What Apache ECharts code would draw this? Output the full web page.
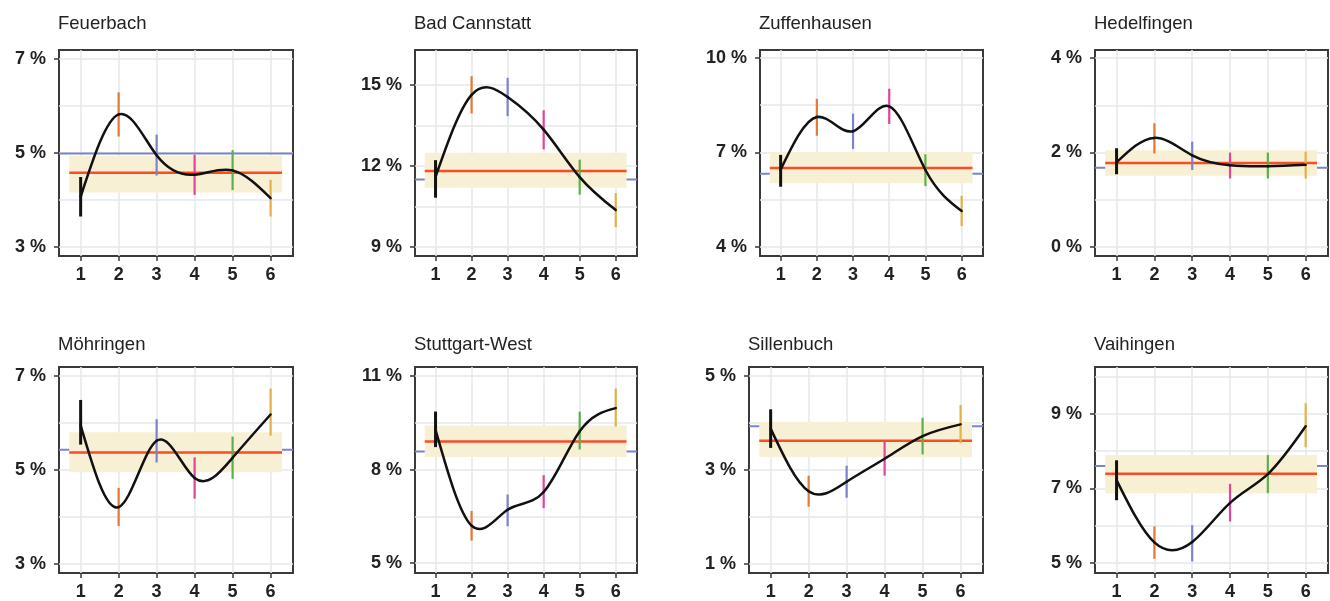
<!DOCTYPE html>
<html><head><meta charset="utf-8">
<script src="https://cdn.jsdelivr.net/npm/echarts@6/dist/echarts.min.js"></script>
<style>html,body{margin:0;padding:0;background:#fff}#c{width:1330px;height:601px}</style>
</head><body><div id="c"></div>
<script>
// ---------- data ----------
const districts = ['Feuerbach','Bad Cannstatt','Zuffenhausen','Hedelfingen','Möhringen','Stuttgart-West','Sillenbuch','Vaihingen'];
const categories = [1, 2, 3, 4, 5, 6];

const feuerbachEst = [4.07, 5.82, 4.95, 4.54, 4.63, 4.04];
const feuerbachLo  = [3.65, 5.35, 4.52, 4.11, 4.21, 3.65];
const feuerbachHi  = [4.49, 6.29, 5.39, 4.96, 5.06, 4.43];

const cannstattEst = [11.6, 14.64, 14.56, 13.35, 11.59, 10.37];
const cannstattLo  = [10.83, 13.95, 13.85, 12.62, 10.94, 9.74];
const cannstattHi  = [12.22, 15.33, 15.27, 14.07, 12.24, 11.0];

const zuffenhausenEst = [6.45, 8.12, 7.67, 8.46, 6.44, 5.14];
const zuffenhausenLo  = [5.91, 7.53, 7.11, 7.90, 5.93, 4.66];
const zuffenhausenHi  = [6.92, 8.70, 8.23, 9.02, 6.94, 5.62];

const hedelfingenEst = [1.79, 2.31, 1.94, 1.73, 1.71, 1.74];
const hedelfingenLo  = [1.54, 1.98, 1.63, 1.45, 1.45, 1.45];
const hedelfingenHi  = [2.09, 2.62, 2.23, 2.00, 2.00, 2.02];

const moehringenEst = [5.95, 4.21, 5.62, 4.83, 5.26, 6.18];
const moehringenLo  = [5.54, 3.81, 5.16, 4.39, 4.81, 5.73];
const moehringenHi  = [6.49, 4.62, 6.08, 5.27, 5.71, 6.73];

const westEst = [9.27, 6.20, 6.71, 7.28, 9.23, 9.97];
const westLo  = [8.72, 5.72, 6.18, 6.76, 8.64, 9.38];
const westHi  = [9.86, 6.67, 7.20, 7.82, 9.86, 10.6];

const sillenbuchEst = [3.88, 2.55, 2.75, 3.24, 3.72, 3.97];
const sillenbuchLo  = [3.47, 2.22, 2.41, 2.88, 3.33, 3.57];
const sillenbuchHi  = [4.29, 2.88, 3.09, 3.60, 4.11, 4.38];

const vaihingenEst = [7.22, 5.55, 5.56, 6.61, 7.38, 8.66];
const vaihingenLo  = [6.68, 5.11, 5.04, 6.11, 6.87, 8.10];
const vaihingenHi  = [7.75, 5.98, 6.01, 7.12, 7.89, 9.28];

const cityLevel    = [4.99, 11.5, 6.32, 1.68, 5.43, 8.58, 3.93, 7.60];   // blue
const districtMean = [4.58, 11.82, 6.50, 1.78, 5.37, 8.90, 3.62, 7.39];  // red
const bandLow      = [4.16, 11.20, 6.02, 1.51, 4.95, 8.40, 3.27, 6.87];
const bandHigh     = [4.94, 12.49, 7.00, 2.05, 5.80, 9.41, 4.02, 7.89];
const bandX        = [0.7, 6.3];

const yMin = [2.81, 8.67, 3.71, -0.19, 2.81, 4.68, 0.81, 4.73];
const yMax = [7.19, 16.3, 10.25, 4.17, 7.19, 11.29, 5.19, 10.25];
const xRange = [0.43, 6.59];
const yLabelTicks = [[3,5,7],[9,12,15],[4,7,10],[0,2,4],[3,5,7],[5,8,11],[1,3,5],[5,7,9]];
const yGridTicks = [[3,4,5,6,7],[9,10.5,12,13.5,15],[4,5.5,7,8.5,10],[0,1,2,3,4],[3,4,5,6,7],[5,6.5,8,9.5,11],[1,2,3,4,5],[5,6,7,8,9,10]];
const yGridStep = [1, 1.5, 1.5, 1, 1, 1.5, 1, 1];

const estimates = [feuerbachEst, cannstattEst, zuffenhausenEst, hedelfingenEst, moehringenEst, westEst, sillenbuchEst, vaihingenEst];
const lowers = [feuerbachLo, cannstattLo, zuffenhausenLo, hedelfingenLo, moehringenLo, westLo, sillenbuchLo, vaihingenLo];
const uppers = [feuerbachHi, cannstattHi, zuffenhausenHi, hedelfingenHi, moehringenHi, westHi, sillenbuchHi, vaihingenHi];

// ---------- layout & style ----------
const gridLeft   = [59, 415, 760, 1095, 59, 415, 749, 1095];
const gridWidth  = [234, 222, 223, 233, 234, 222, 234, 233];
const rowTop     = [50, 367];
const rowHeight  = [206, 207];
const titleTop   = [14, 335];
const barColors  = ['#111111', '#e27a36', '#7d83cb', '#e0459b', '#5daf4e', '#e4b04a'];
const frameColor = '#3a3a3a';
const gridColor  = '#e3e8e8';
const font = 'Liberation Sans, Arial, sans-serif';

// slopes of a natural cubic spline through (x, y)
function splineSlopes(x, y) {
  const n = x.length;
  const h = [], a = new Array(n).fill(0), b = new Array(n).fill(1), c = new Array(n).fill(0), r = new Array(n).fill(0);
  for (let i = 0; i < n - 1; i++) h[i] = x[i + 1] - x[i];
  for (let i = 1; i < n - 1; i++) {
    a[i] = h[i - 1]; b[i] = 2 * (h[i - 1] + h[i]); c[i] = h[i];
    r[i] = 6 * ((y[i + 1] - y[i]) / h[i] - (y[i] - y[i - 1]) / h[i - 1]);
  }
  // Thomas algorithm (M0 = Mn-1 = 0)
  const cp = new Array(n).fill(0), rp = new Array(n).fill(0);
  for (let i = 0; i < n; i++) {
    const den = b[i] - (i > 0 ? a[i] * cp[i - 1] : 0);
    cp[i] = c[i] / den;
    rp[i] = (r[i] - (i > 0 ? a[i] * rp[i - 1] : 0)) / den;
  }
  const M = new Array(n).fill(0);
  M[n - 1] = rp[n - 1];
  for (let i = n - 2; i >= 0; i--) M[i] = rp[i] - cp[i] * M[i + 1];
  const s = new Array(n);
  for (let i = 0; i < n - 1; i++) s[i] = (y[i + 1] - y[i]) / h[i] - h[i] * (2 * M[i] + M[i + 1]) / 6;
  s[n - 1] = (y[n - 1] - y[n - 2]) / h[n - 2] + h[n - 2] * (M[n - 2] + 2 * M[n - 1]) / 6;
  return s;
}

const grids = [], xAxes = [], yAxes = [], series = [], titles = [];

districts.forEach((name, i) => {
  const row = i < 4 ? 0 : 1;
  grids.push({left: gridLeft[i], top: rowTop[row], width: gridWidth[i], height: rowHeight[row],
    show: true, borderColor: frameColor, borderWidth: 2, backgroundColor: 'transparent'});
  titles.push({text: name, left: gridLeft[i] - 1, top: titleTop[row], padding: 0,
    textStyle: {fontSize: 18.5, fontWeight: 'normal', color: '#222', fontFamily: font}});

  xAxes.push({gridIndex: i, type: 'value', min: xRange[0], max: xRange[1], minInterval: 1, maxInterval: 1,
    axisLine: {show: false, onZero: false},
    axisTick: {show: true, customValues: categories, length: 5, lineStyle: {color: frameColor, width: 1.5}},
    axisLabel: {customValues: categories, margin: 10, fontSize: 18, fontWeight: 'bold', color: '#222', fontFamily: font},
    splitLine: {show: true, customValues: categories, lineStyle: {color: gridColor, width: 1.5}}});

  yAxes.push({gridIndex: i, type: 'value', min: yMin[i], max: yMax[i], position: 'left',
    axisLine: {show: false, onZero: false}, splitLine: {show: false},
    axisTick: {show: true, customValues: yLabelTicks[i], length: 5, lineStyle: {color: frameColor, width: 1.5}},
    axisLabel: {customValues: yLabelTicks[i], formatter: v => v + ' %', margin: 13, fontSize: 18, fontWeight: 'bold', color: '#222', fontFamily: font}});
  yAxes.push({gridIndex: i, type: 'value', min: yMin[i], max: yMax[i], position: 'right',
    minInterval: yGridStep[i], maxInterval: yGridStep[i],
    axisLine: {show: false, onZero: false}, axisLabel: {show: false},
    axisTick: {show: false, customValues: yGridTicks[i]},
    splitLine: {show: true, customValues: yGridTicks[i], lineStyle: {color: gridColor, width: 1.5}}});

  const xi = i, yi = 2 * i;

  // blue reference level across the whole panel
  series.push({type: 'custom', xAxisIndex: xi, yAxisIndex: yi, z: 3, silent: true,
    data: [[xRange[0], cityLevel[i]]],
    renderItem: (params, api) => {
      const cs = params.coordSys;
      const y = api.coord([api.value(0), api.value(1)])[1];
      return {type: 'line', shape: {x1: cs.x, y1: y, x2: cs.x + cs.width, y2: y},
        style: {stroke: '#7b83c9', lineWidth: 2}};
    }});

  // beige band
  series.push({type: 'custom', xAxisIndex: xi, yAxisIndex: yi, z: 4, silent: true,
    data: [[bandX[0], bandX[1], bandLow[i], bandHigh[i]]],
    encode: {x: [0, 1], y: [2, 3]},
    renderItem: (params, api) => {
      const p0 = api.coord([api.value(0), api.value(3)]);
      const p1 = api.coord([api.value(1), api.value(2)]);
      return {type: 'rect', shape: {x: p0[0], y: p0[1], width: p1[0] - p0[0], height: p1[1] - p0[1]},
        style: {fill: '#f8f0d4'}};
    }});

  // red mean line
  series.push({type: 'custom', xAxisIndex: xi, yAxisIndex: yi, z: 5, silent: true,
    data: [[bandX[0], bandX[1], districtMean[i]]],
    encode: {x: [0, 1], y: 2},
    renderItem: (params, api) => {
      const p0 = api.coord([api.value(0), api.value(2)]);
      const p1 = api.coord([api.value(1), api.value(2)]);
      return {type: 'line', shape: {x1: p0[0], y1: p0[1], x2: p1[0], y2: p1[1]},
        style: {stroke: '#fa4c26', lineWidth: 2.5}};
    }});

  // error bars
  series.push({type: 'custom', xAxisIndex: xi, yAxisIndex: yi, z: 6, silent: true,
    data: categories.map((c, k) => [c, lowers[i][k], uppers[i][k]]),
    encode: {x: 0, y: [1, 2]},
    renderItem: (params, api) => {
      const a = api.coord([api.value(0), api.value(1)]);
      const b = api.coord([api.value(0), api.value(2)]);
      const k = params.dataIndex;
      return {type: 'line', shape: {x1: a[0], y1: a[1], x2: b[0], y2: b[1]},
        style: {stroke: barColors[k], lineWidth: k === 0 ? 3 : 2.2}};
    }});

  // smooth trend curve: cubic spline through the estimates, drawn segment by segment
  const est = estimates[i];
  const slopes = splineSlopes(categories, est);
  series.push({type: 'custom', xAxisIndex: xi, yAxisIndex: yi, z: 8, silent: true,
    data: categories.map((c, k) => [c, est[k]]),
    encode: {x: 0, y: 1},
    renderItem: (params, api) => {
      const k = params.dataIndex;
      if (k >= categories.length - 1) return null;
      const x0 = categories[k], x1 = categories[k + 1], h = x1 - x0;
      const y0 = est[k], y1 = est[k + 1];
      const p0 = api.coord([x0, y0]);
      const p1 = api.coord([x1, y1]);
      const c0 = api.coord([x0 + h / 3, y0 + slopes[k] * h / 3]);
      const c1 = api.coord([x1 - h / 3, y1 - slopes[k + 1] * h / 3]);
      return {type: 'bezierCurve',
        shape: {x1: p0[0], y1: p0[1], x2: p1[0], y2: p1[1], cpx1: c0[0], cpy1: c0[1], cpx2: c1[0], cpy2: c1[1]},
        style: {stroke: '#111', lineWidth: 2.5, fill: null, lineCap: 'round'}};
    }});
});

const chart = echarts.init(document.getElementById('c'));
chart.setOption({animation: false, backgroundColor: '#fff', title: titles, grid: grids, xAxis: xAxes, yAxis: yAxes, series: series});
</script>
</body></html>
